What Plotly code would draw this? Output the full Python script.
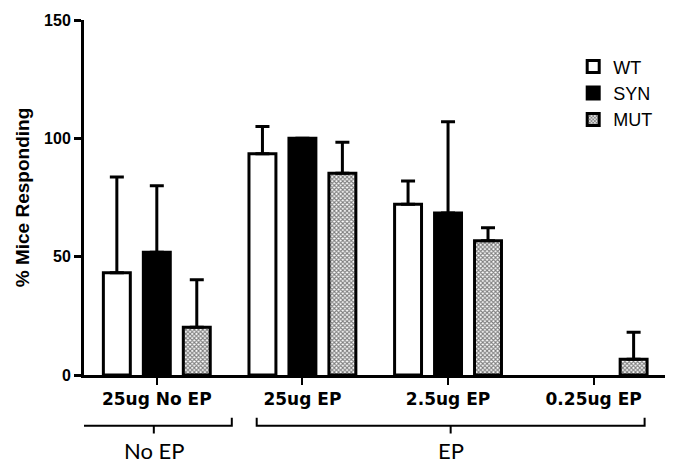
import plotly.graph_objects as go

# ---- data ----
categories = ["25ug No EP", "25ug EP", "2.5ug EP", "0.25ug EP"]
series_names = ["WT", "SYN", "MUT"]
wt_mean = [43.2, 93.5, 72.1, 0]
wt_upper = [83.7, 105.0, 82.0, None]
syn_mean = [51.9, 100.0, 68.5, 0]
syn_upper = [80.0, None, 107.0, None]
mut_mean = [20.2, 85.2, 56.7, 6.7]
mut_upper = [40.2, 98.3, 62.2, 18.1]
y_ticks = [0, 50, 100, 150]
group_labels = ["No EP", "EP"]
group_spans = [(-0.556, 0.515), (0.686, 3.35)]

ARIAL = "Arial, Liberation Sans, sans-serif"


def plus_err(mean, upper):
    return [0 if u is None else u - m for m, u in zip(mean, upper)]


fig = go.Figure()

styles = [
    dict(color="white"),
    dict(color="black"),
    dict(color="white", pattern=dict(shape="x", size=3, solidity=0.6,
                                     fgcolor="black", bgcolor="white",
                                     fillmode="overlay")),
]
means = [wt_mean, syn_mean, mut_mean]
uppers = [wt_upper, syn_upper, mut_upper]

for name, m, u, st in zip(series_names, means, uppers, styles):
    # a 0 % response with no spread draws nothing in the reference
    y_plot = [None if (v == 0 and up is None) else v for v, up in zip(m, u)]
    marker = dict(line=dict(color="black", width=3), **st)
    plus = plus_err(m, u)
    fig.add_trace(go.Bar(
        x=categories, y=y_plot, name=name, marker=marker,
        error_y=dict(type="data", symmetric=False, array=plus,
                     arrayminus=[0] * len(plus), color="black",
                     thickness=3, width=7),
    ))

# brackets below the axis
y_top, y_h, y_n = -0.1207, -0.1429, -0.165
for label, (x0, x1) in zip(group_labels, group_spans):
    xm = (x0 + x1) / 2
    fig.add_shape(type="path", xref="x", yref="paper",
                  path=f"M {x0},{y_top} L {x0},{y_h} L {xm},{y_h} L {xm},{y_n} "
                       f"M {xm},{y_h} L {x1},{y_h} L {x1},{y_top}",
                  line=dict(color="black", width=2))
    fig.add_annotation(x=xm, y=-0.212, xref="x", yref="paper", text=label,
                       showarrow=False, yanchor="middle",
                       font=dict(family="Lato", size=22, color="black"))

fig.update_layout(
    width=680, height=464,
    margin=dict(l=84, r=15, t=15, b=89),
    plot_bgcolor="white", paper_bgcolor="white",
    barmode="group", bargap=0.1765, bargroupgap=0.326,
    showlegend=True,
    legend=dict(x=0.842, y=0.92, xanchor="left", yanchor="top",
                font=dict(family=ARIAL, size=18, color="black"),
                bgcolor="rgba(0,0,0,0)"),
    xaxis=dict(range=[-0.5, 3.49], showline=True, linecolor="black",
               linewidth=3, ticks="outside", ticklen=7, tickwidth=2,
               tickcolor="black", showgrid=False, zeroline=False,
               tickfont=dict(family="DejaVu Sans", size=17, color="black",
                             weight="bold")),
    yaxis=dict(range=[0, 150], tickvals=y_ticks, showline=True,
               linecolor="black", linewidth=3, ticks="outside", ticklen=7,
               tickwidth=3, tickcolor="black", showgrid=False,
               zeroline=False,
               tickfont=dict(family=ARIAL, size=16, color="black",
                             weight="bold"),
               title=dict(text="% Mice Responding", standoff=10,
                          font=dict(family=ARIAL, size=19, color="black",
                                    weight="bold"))),
)

fig.write_html("out.html", config={"displayModeBar": False},
               post_script="document.body.style.margin='0';"
                           "document.body.style.overflow='hidden';")
